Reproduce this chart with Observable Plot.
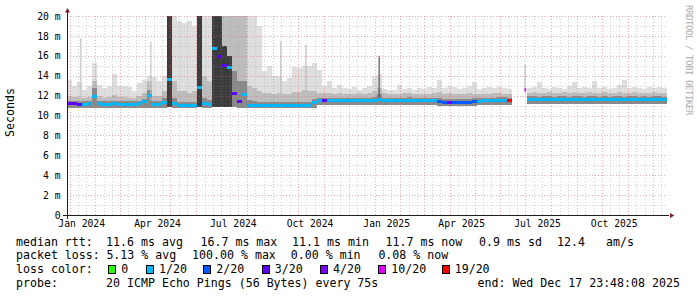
<!DOCTYPE html>
<html><head><meta charset="utf-8">
<script src="https://cdn.jsdelivr.net/npm/d3@7"></script>
<script src="https://cdn.jsdelivr.net/npm/@observablehq/plot@0.6"></script>
<style>
html,body{margin:0;padding:0;background:#fff;}
#wrap{position:relative;width:697px;height:297px;overflow:hidden;font-family:"DejaVu Sans Mono",monospace;color:#000;}
#wrap svg{position:absolute;left:0;top:0;}
.t{position:absolute;white-space:pre;font-size:11.6px;line-height:14px;}
.sw{position:absolute;width:6px;height:7px;border:1px solid #000;}
.ylab{position:absolute;left:3px;top:88px;font-size:11.6px;line-height:14px;writing-mode:vertical-rl;transform:rotate(180deg);white-space:pre;}
.wm{position:absolute;left:684px;top:5px;font-size:9px;line-height:9px;letter-spacing:-0.42px;writing-mode:vertical-rl;color:#aaa;white-space:pre;}
</style></head><body><div id="wrap"></div>
<script>
// ---- time frame ----
const startDate = Date.UTC(2023, 11, 29);
const endDate = Date.UTC(2025, 11, 18);
const DAY = 864e5;
const stepDays = 6;

// ---- series (one value per 6-day bucket), ms ----
const med = [
 11.2, 11.2, 11.15, 11.15, 11.2, 11.9, 11.2, 11.15, 11.15, 11.2,
 11.15, 11.15, 11.15, 11.15, 11.2, 11.4, 12.0, 11.15, 11.15, 11.3,
 13.6, 11.2, 11.05, 11.05, 11.05, 11.05, 12.8, 11.2, 11.1, 16.7,
 15.9, 15.0, 14.8, 12.2, 11.4, 12.1, 11.05, 11.05, 11.05, 11.05,
 11.05, 11.05, 11.05, 11.05, 11.05, 11.05, 11.05, 11.05, 11.05, 11.3,
 11.55, 11.55, 11.55, 11.5, 11.5, 11.5, 11.5, 11.55, 11.5, 11.5,
 11.5, 11.55, 11.6, 11.5, 11.5, 11.5, 11.5, 11.5, 11.55, 11.5,
 11.5, 11.5, 11.5, 11.5, 11.4, 11.35, 11.35, 11.35, 11.3, 11.35,
 11.35, 11.4, 11.45, 11.5, 11.5, 11.5, 11.55, 11.55, 11.5, null,
 null, null, 11.65, 11.65, 11.6, 11.65, 11.65, 11.6, 11.65, 11.65,
 11.6, 11.65, 11.65, 11.6, 11.65, 11.65, 11.6, 11.65, 11.6, 11.65,
 11.65, 11.6, 11.65, 11.65, 11.6, 11.65, 11.6, 11.65, 11.65, 11.6
];
const lossIdx = [
 3,3,3,1,1,1,1,1,1,1,
 1,1,1,1,1,1,1,1,1,1,
 1,1,1,1,1,1,1,1,1,1,
 3,3,1,3,3,1,1,1,1,1,
 1,1,1,1,1,1,1,1,1,1,
 1,3,1,1,1,1,1,1,1,1,
 1,1,1,1,1,1,1,1,1,1,
 1,1,1,1,2,2,3,2,2,2,
 2,2,1,1,1,1,1,1,19,null,
 null,null,1,1,1,1,1,1,1,1,
 1,1,1,1,1,1,1,1,1,1,
 1,1,1,1,1,1,1,1,1,1
];
const lo = [
 10.75,10.75,10.75,10.75,10.75,10.8,10.75,10.75,10.75,10.75,
 10.75,10.75,10.75,10.75,10.75,10.75,10.8,10.75,10.75,10.75,
 10.85,10.75,10.75,10.75,10.75,10.75,10.85,10.75,10.75,10.85,
 10.85,10.85,10.85,10.85,10.8,10.8,10.75,10.75,10.75,10.75,
 10.75,10.75,10.75,10.75,10.75,10.75,10.75,10.75,10.75,10.8,
 11.05,11.05,11.05,11.05,11.05,11.05,11.05,11.05,11.05,11.05,
 11.05,11.05,11.05,11.05,11.05,11.05,11.05,11.05,11.05,11.05,
 11.05,11.05,11.05,11.05,11.0,11.0,11.0,11.0,11.0,11.0,
 11.0,11.0,11.05,11.05,11.05,11.05,11.05,11.05,11.05,null,
 null,null,11.15,11.15,11.15,11.15,11.15,11.15,11.15,11.15,
 11.15,11.15,11.15,11.15,11.15,11.15,11.15,11.15,11.15,11.15,
 11.15,11.15,11.15,11.15,11.15,11.15,11.15,11.15,11.15,11.15
];
const dark = [
 11.5, 11.5, 11.45, 11.45, 11.5, 12.8, 11.5, 11.45, 11.45, 11.5,
 11.45, 11.45, 11.45, 11.45, 11.5, 11.7, 12.6, 11.45, 11.45, 11.8,
 20.5, 11.8, 11.4, 11.4, 11.4, 11.4, 20.5, 11.8, 11.6, 20.5,
 20.5, 17.0, 16.0, 14.5, 13.5, 13.5, 11.6, 11.5, 11.4, 11.4,
 11.4, 11.4, 11.4, 11.4, 11.4, 11.4, 11.4, 11.4, 11.4, 11.7,
 11.8, 11.8, 11.8, 11.8, 11.8, 11.8, 11.8, 11.8, 11.8, 11.8,
 11.8, 11.9, 12.2, 11.8, 11.8, 11.8, 11.8, 11.8, 11.85, 11.8,
 11.8, 11.8, 11.8, 11.8, 11.75, 11.7, 11.7, 11.7, 11.7, 11.7,
 11.7, 11.75, 11.8, 11.8, 11.8, 11.8, 11.85, 11.85, 11.8, null,
 null, null, 11.95, 11.95, 11.9, 11.95, 11.95, 11.9, 11.95, 11.95,
 11.9, 11.95, 11.95, 11.9, 11.95, 11.95, 11.9, 11.95, 11.9, 11.95,
 11.95, 11.9, 11.95, 11.95, 11.9, 11.95, 11.9, 11.95, 11.95, 11.9
];
const mid = [
 12.0, 11.9, 11.9, 11.8, 11.9, 13.5, 12.0, 11.8, 11.9, 12.1,
 11.9, 11.9, 11.8, 11.8, 12.0, 12.3, 13.5, 12.0, 12.0, 12.5,
 20.5, 13.5, 12.5, 12.5, 12.3, 12.5, 20.5, 14.0, 13.5, 20.5,
 20.5, 20.5, 20.5, 20.5, 20.5, 20.5, 13.0, 12.8, 12.5, 12.3,
 12.3, 12.2, 12.3, 12.2, 12.2, 12.4, 12.4, 12.6, 12.5, 12.5,
 12.3, 12.3, 12.3, 12.2, 12.3, 12.2, 12.2, 12.2, 12.3, 12.2,
 12.3, 12.5, 12.8, 12.3, 12.2, 12.2, 12.2, 12.3, 12.3, 12.2,
 12.2, 12.2, 12.2, 12.3, 12.4, 12.2, 12.3, 12.2, 12.2, 12.2,
 12.3, 12.2, 12.2, 12.2, 12.2, 12.3, 12.3, 12.2, 12.2, null,
 null, null, 12.3, 12.4, 12.3, 12.3, 12.4, 12.3, 12.3, 12.4,
 12.3, 12.4, 12.3, 12.3, 12.4, 12.3, 12.3, 12.4, 12.3, 12.3,
 12.4, 12.3, 12.3, 12.4, 12.3, 12.3, 12.3, 12.4, 12.3, 12.3
];
const hi = [
 13.6, 13.0, 13.4, 12.6, 13.0, 15.3, 13.1, 12.8, 13.0, 14.2,
 13.0, 13.0, 12.9, 12.5, 13.3, 13.6, 14.0, 13.9, 13.5, 14.0,
 20.5, 20.5, 19.5, 19.3, 19.5, 19.0, 20.5, 20.5, 20.5, 20.5,
 20.5, 20.5, 20.5, 20.5, 20.5, 20.5, 20.5, 20.0, 19.0, 14.5,
 15.0, 14.0, 14.0, 13.5, 13.8, 14.9, 14.8, 15.0, 15.0, 15.3,
 14.6, 13.0, 13.5, 12.8, 13.1, 12.8, 12.7, 12.9, 12.6, 12.8,
 13.0, 13.9, 14.2, 12.7, 12.6, 12.6, 13.1, 12.7, 12.8, 12.6,
 12.8, 12.7, 12.9, 12.8, 13.6, 12.8, 13.0, 12.9, 12.7, 12.8,
 13.0, 13.4, 12.7, 12.8, 12.9, 12.8, 12.9, 12.8, 12.7, null,
 null, null, 12.8, 12.9, 13.4, 12.8, 12.7, 12.9, 12.8, 12.7,
 13.0, 13.4, 12.8, 12.9, 12.8, 13.5, 12.8, 12.9, 12.7, 12.8,
 13.1, 13.6, 12.8, 12.9, 12.8, 12.7, 12.9, 12.8, 12.9, 12.8
];
// narrow single-day spikes (days after start)
const spikeDay = [16, 100, 256, 286, 374, 549];
const spikeLo  = [11.4, 11.5, 11.4, 11.4, 11.6, 12.2];
const spikeHi  = [17.8, 17.4, 17.5, 17.1, 16.0, 15.1];
const spikeTone = ["light", "light", "light", "light", "dark", "light"];
// isolated median reading inside the data gap
const dotDay = [549];
const dotMed = [12.6];
const dotLoss = [10];

// ---- legend / axis labels ----
const lossKeys = [0, 1, 2, 3, 4, 10, 19];
const lossLabels = ["0", "1/20", "2/20", "3/20", "4/20", "10/20", "19/20"];
const lossColors = ["#26ff00", "#00b8ff", "#0059ff", "#5e00ff", "#7e00ff", "#dd00ff", "#ff0000"];
const yTicks = [0, 2, 4, 6, 8, 10, 12, 14, 16, 18, 20];
const labelMonths = [[2024,0],[2024,3],[2024,6],[2024,9],[2025,0],[2025,3],[2025,6],[2025,9]];
const rttStats = ["11.6 ms avg", "16.7 ms max", "11.1 ms min", "11.7 ms now", "0.9 ms sd", "12.4   am/s"];
const lossStats = ["5.13 % avg", "100.00 % max", "0.00 % min", "0.08 % now"];
const probeText = "20 ICMP Echo Pings (56 Bytes) every 75s";
const endText = "end: Wed Dec 17 23:48:08 2025";

// ---- build tables ----
const colorOf = k => lossColors[lossKeys.indexOf(k)];
const rows = [];
med.forEach((m, i) => {
  if (m == null) return;
  rows.push({x1: new Date(startDate + i*stepDays*DAY), x2: new Date(startDate + (i+1)*stepDays*DAY),
    med: m, lo: lo[i], dark: dark[i], mid: mid[i], hi: hi[i], loss: lossIdx[i]});
});
const spikes = spikeDay.map((d, i) => ({x: new Date(startDate + d*DAY), lo: spikeLo[i], hi: spikeHi[i], tone: spikeTone[i]}));
const dots = dotDay.map((d, i) => ({x1: new Date(startDate + d*DAY), x2: new Date(startDate + (d+2)*DAY), med: dotMed[i], loss: dotLoss[i]}));

const majorX = [], minorX = [];
for (let y = 2023; y <= 2025; y++) for (let m = 0; m < 12; m++) {
  const a = Date.UTC(y, m, 1), b = Date.UTC(y, m, 11), c = Date.UTC(y, m, 21);
  if (a > startDate && a < endDate) majorX.push(new Date(a));
  [b, c].forEach(t => { if (t > startDate && t < endDate) minorX.push(new Date(t)); });
}
const minorY = d3.range(1, 20, 2), majorY = d3.range(2, 21, 2);
const labelDates = labelMonths.map(([y, m]) => new Date(Date.UTC(y, m, 15)));

const gridMinor = "rgba(150,150,150,0.42)", gridMajor = "rgba(225,90,90,0.5)";

const chart = Plot.plot({
  width: 697, height: 232,
  marginLeft: 67, marginRight: 30, marginTop: 16, marginBottom: 17,
  style: {fontFamily: "DejaVu Sans Mono", fontSize: "9.7px", background: "transparent", color: "#000", overflow: "visible"},
  x: {type: "utc", domain: [new Date(startDate), new Date(endDate)], axis: null},
  y: {domain: [0, 20], axis: null},
  marks: [
    Plot.rect(rows, {x1: "x1", x2: "x2", y1: "lo", y2: "hi", fill: "#dedede", clip: true, shapeRendering: "crispEdges"}),
    Plot.rect(rows, {x1: "x1", x2: "x2", y1: "lo", y2: "mid", fill: "#bdbdbd", clip: true, shapeRendering: "crispEdges"}),
    Plot.rect(rows, {x1: "x1", x2: "x2", y1: "lo", y2: "dark", fill: d => d.dark > 15 ? "#3c3c3c" : "#8a8a8a", clip: true, shapeRendering: "crispEdges"}),
    Plot.ruleX(spikes, {x: "x", y1: "lo", y2: "hi", stroke: d => d.tone === "dark" ? "#555" : "#c4c4c4", strokeWidth: 1.2}),
    Plot.ruleY(minorY, {stroke: gridMinor, strokeDasharray: "1,2", shapeRendering: "crispEdges"}),
    Plot.ruleX(minorX, {stroke: gridMinor, strokeDasharray: "1,2", shapeRendering: "crispEdges"}),
    Plot.ruleY(majorY, {stroke: gridMajor, strokeDasharray: "1,2", shapeRendering: "crispEdges"}),
    Plot.ruleX(majorX, {stroke: gridMajor, strokeDasharray: "1,2", shapeRendering: "crispEdges"}),
    Plot.rect(rows, {x1: "x1", x2: "x2", y1: "med", y2: "med", insetTop: -1.5, insetBottom: -1.5, fill: d => colorOf(d.loss), shapeRendering: "crispEdges"}),
    Plot.rect(dots, {x1: "x1", x2: "x2", y1: "med", y2: "med", insetTop: -1.5, insetBottom: -1.5, fill: d => colorOf(d.loss)}),
    Plot.axisY(yTicks, {anchor: "left", tickSize: 0, tickPadding: 7, tickFormat: d => d === 0 ? "0" : `${d} m`, label: null, fontSize: "9.7px"}),
    Plot.axisX(labelDates, {anchor: "bottom", tickSize: 0, tickPadding: 5, tickFormat: d3.utcFormat("%b %Y"), label: null, fontSize: "9.7px"}),
    Plot.ruleX([new Date(startDate)], {stroke: "#1f1f1f", insetTop: -5, insetBottom: -4, shapeRendering: "crispEdges"}),
    Plot.ruleY([0], {stroke: "#1f1f1f", insetLeft: -4, insetRight: -2, shapeRendering: "crispEdges"}),
    Plot.dot([0], {frameAnchor: "top-left", symbol: "triangle2", r: 2.4, dy: -5.5, fill: "#801f1f", stroke: "none"}),
    Plot.dot([0], {frameAnchor: "bottom-right", symbol: "triangle2", rotate: 90, r: 2.4, dx: 4, fill: "#801f1f", stroke: "none"})
  ]
});

const wrap = document.getElementById("wrap");
wrap.appendChild(chart);

function addText(txt, x, top, cls = "t") {
  const d = document.createElement("div");
  d.className = cls; d.textContent = txt;
  d.style.left = x + "px"; d.style.top = top + "px";
  wrap.appendChild(d); return d;
}
const y = document.createElement("div"); y.className = "ylab"; y.textContent = "Seconds"; wrap.appendChild(y);
const w = document.createElement("div"); w.className = "wm"; w.textContent = "RRDTOOL / TOBI OETIKER"; wrap.appendChild(w);

const rowTop = [234.5, 248, 262.3, 275.7];
const rttX = [106.1, 200.5, 292.1, 385.5, 479.1, 557.1];
const lossX = [106.4, 192.1, 290.8, 378.4];
addText("median rtt:", 16, rowTop[0]);
rttStats.forEach((s, i) => addText(s, rttX[i], rowTop[0]));
addText("packet loss:", 16, rowTop[1]);
lossStats.forEach((s, i) => addText(s, lossX[i], rowTop[1]));
addText("loss color:", 16, rowTop[2]);
const swX = [108.3, 146, 203.3, 261.7, 320, 378.3, 441.7];
lossLabels.forEach((lab, i) => {
  const s = document.createElement("div"); s.className = "sw";
  s.style.left = swX[i] + "px"; s.style.top = "265px"; s.style.background = lossColors[i];
  wrap.appendChild(s);
  addText(lab, swX[i] + 13, rowTop[2]);
});
addText("probe:", 16, rowTop[3]);
addText(probeText, 106.1, rowTop[3]);
addText(endText, 477.5, rowTop[3]);
</script></body></html>
